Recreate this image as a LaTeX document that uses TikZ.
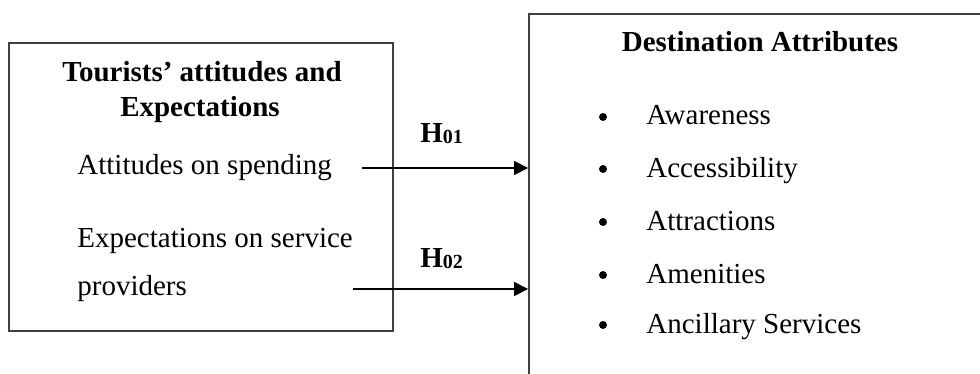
\documentclass[tikz,border=0pt]{standalone}
\usepackage{fontspec}
\setmainfont{Liberation Serif}
\usetikzlibrary{arrows.meta}

\newcommand{\hsub}[1]{\raisebox{-0.8pt}{\fontsize{10}{12}\selectfont #1}}

\begin{document}
\begin{tikzpicture}[x=0.5pt,y=-0.5pt,
    txt/.style={inner sep=0pt,font=\fontsize{14.5}{17}\selectfont},
    hd/.style={inner sep=0pt,font=\fontsize{14.5}{17}\selectfont\bfseries},
    box/.style={draw=black!75,line width=0.9pt,inner sep=0pt},
    conn/.style={-{Triangle[length=7pt,width=7pt]},line width=0.6pt}]
    \clip (0,0) rectangle (980,374);
    % the two boxes
    \node[box,minimum width=192pt,minimum height=144pt] (src) at (201,187) {};
    \node[box,minimum width=235.5pt,minimum height=193pt] (dest) at (764.5,207) {};
    % left box
    \node[hd,anchor=base] (t1) at (202,82) {Tourists’ attitudes and};
    \node[hd,anchor=base] (t2) at (200,117) {Expectations};
    \node[txt,anchor=base west] (spend) at (77,175) {Attitudes on spending};
    \node[txt,anchor=base west] (serv1) at (77,247) {Expectations on service};
    \node[txt,anchor=base west] (serv2) at (77,295) {providers};
    % right box
    \node[hd,anchor=base] (dt) at (760,52) {Destination Attributes};
    \foreach \y/\lbl [count=\i] in {125/Awareness,177/Accessibility,230/Attractions,283/Amenities,333/Ancillary Services} {
        \node[fill=black,circle,inner sep=0pt,minimum size=4pt] (dot\i) at (603,\y-8) {};
        \node[txt,anchor=base west] (attr\i) at (646,\y) {\lbl};
    }
    % hypotheses
    \coordinate (a1) at (362,168);
    \coordinate (a2) at (353,289);
    \draw[conn] (a1) -- (a1 -| dest.west);
    \draw[conn] (a2) -- (a2 -| dest.west);
    \node[hd,anchor=base west] (h1) at (420,142) {H\hsub{01}};
    \node[hd,anchor=base west] (h2) at (420,267) {H\hsub{02}};
\end{tikzpicture}
\end{document}
